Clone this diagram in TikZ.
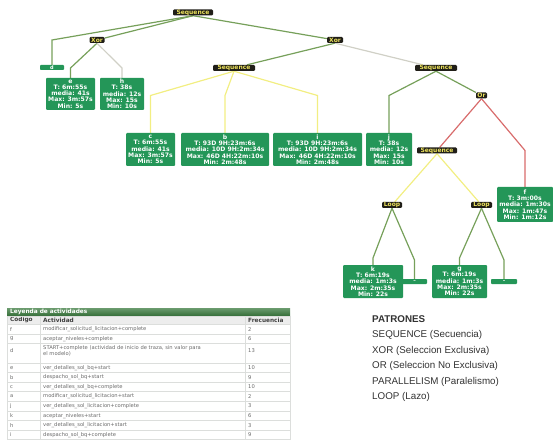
\documentclass[tikz,border=0pt]{standalone}
\usepackage{fontspec}
\setmainfont{DejaVu Sans}
\newfontfamily\patfont{Liberation Sans}
\definecolor{leaf}{RGB}{36,150,88}
\definecolor{opbg}{RGB}{32,30,24}
\definecolor{optx}{RGB}{236,226,92}
\definecolor{egreen}{RGB}{118,160,90}
\definecolor{egray}{RGB}{208,208,198}
\definecolor{eyellow}{RGB}{242,238,130}
\definecolor{ered}{RGB}{216,108,108}
\definecolor{hdrgreen}{RGB}{58,122,62}
\definecolor{rowline}{RGB}{220,222,220}
\definecolor{bodytx}{RGB}{105,105,105}
\definecolor{pattx}{RGB}{50,50,50}
\pgfdeclarelayer{bg}
\pgfsetlayers{bg,main}
\tikzset{
  leafbox/.style={fill=leaf, rounded corners=1pt, text=white, align=center,
    font=\bfseries\fontsize{6.1}{6.3}\selectfont, inner sep=0pt, minimum height=32pt},
  tinybox/.style={fill=leaf, rounded corners=0.8pt, text=white, inner sep=0pt,
    font=\bfseries\fontsize{5}{5}\selectfont, minimum height=5pt},
  opbox/.style={fill=opbg, rounded corners=1.2pt, text=optx, inner sep=0pt,
    font=\bfseries\fontsize{6}{6}\selectfont, minimum height=6pt},
  edge/.style={line width=1.2pt},
  tbltx/.style={text=bodytx, font=\fontsize{5.2}{6}\selectfont, inner sep=0pt, anchor=west},
  tblhd/.style={text=black!75, font=\bfseries\fontsize{5.8}{6}\selectfont, inner sep=0pt, anchor=west},
  pattxt/.style={text=pattx, font=\patfont\fontsize{9.8}{11}\selectfont, inner sep=0pt, anchor=base west}
}
\begin{document}
\begin{tikzpicture}[x=1pt,y=-1pt]
\useasboundingbox (0,0) rectangle (553,443);

% ---------- process tree: operators ----------
\node[opbox, minimum width=40pt] (top)  at (193,12.5) {Sequence};
\node[opbox, minimum width=15pt] (xl)   at (97,40)    {Xor};
\node[opbox, minimum width=16pt] (xr)   at (335,40)   {Xor};
\node[opbox, minimum width=42pt] (seqm) at (234,68)   {Sequence};
\node[opbox, minimum width=42pt] (seqr) at (436,68)   {Sequence};
\node[opbox, minimum width=11pt] (or)   at (481.5,95.5) {Or};
\node[opbox, minimum width=40pt] (seql) at (437,150.5) {Sequence};
\node[opbox, minimum width=20pt] (lpl)  at (392,205)  {Loop};
\node[opbox, minimum width=21pt] (lpr)  at (481.5,205) {Loop};
\coordinate (lvl) at (0,258);

% ---------- process tree: activities ----------
\node[tinybox, minimum width=24pt] (d) at (52,67.5) {d};
\node[leafbox, minimum width=49pt] (e) at (70.5,94) {e\\T: 6m:55s\\media: 41s\\Max: 3m:57s\\Min: 5s};
\node[leafbox, minimum width=44pt] (h) at (122,94) {h\\T: 38s\\media: 12s\\Max: 15s\\Min: 10s};
\node[leafbox, minimum width=49pt, minimum height=33pt] (c) at (150.5,149.5) {c\\T: 6m:55s\\media: 41s\\Max: 3m:57s\\Min: 5s};
\node[leafbox, minimum width=88pt, minimum height=33pt] (b) at (225,149.5) {b\\T: 93D 9H:23m:6s\\media: 10D 9H:2m:34s\\Max: 46D 4H:22m:10s\\Min: 2m:48s};
\node[leafbox, minimum width=89pt, minimum height=33pt] (i) at (317.5,149.5) {i\\T: 93D 9H:23m:6s\\media: 10D 9H:2m:34s\\Max: 46D 4H:22m:10s\\Min: 2m:48s};
\node[leafbox, minimum width=46pt, minimum height=33pt] (j) at (389,149.5) {j\\T: 38s\\media: 12s\\Max: 15s\\Min: 10s};
\node[leafbox, minimum width=56pt, minimum height=35pt] (f) at (525,204.5) {f\\T: 3m:00s\\media: 1m:30s\\Max: 1m:47s\\Min: 1m:12s};
\node[leafbox, minimum width=60pt, minimum height=33pt] (k) at (373,281.5) {k\\T: 6m:19s\\media: 1m:3s\\Max: 2m:35s\\Min: 22s};
\node[tinybox, minimum width=25pt] (tl) at (414.5,281.5) {--};
\node[leafbox, minimum width=55pt, minimum height=33pt] (g) at (459.5,281.5) {g\\T: 6m:19s\\media: 1m:3s\\Max: 2m:35s\\Min: 22s};
\node[tinybox, minimum width=26pt] (tr) at (504,281.5) {--};

% ---------- process tree: connectors ----------
\begin{pgfonlayer}{bg}
\draw[edge, egreen] (top.south) -- (d.north |- xl.center) -- (d.north);
\draw[edge, egreen] (top.south) -- (xl);
\draw[edge, egreen] (top.south) -- (xr);
\draw[edge, egreen] (xl.south) -- (e.north |- seqm.center) -- (e.north);
\draw[edge, egray]  (xl.south) -- (h.north |- seqm.center) -- (h.north);
\draw[edge, egreen] (xr.south) -- (seqm);
\draw[edge, egray]  (xr.south) -- (seqr);
\draw[edge, eyellow] (seqm.south) -- (c.north |- or.center) -- (c.north);
\draw[edge, eyellow] (seqm.south) -- (b.north |- or.center) -- (b.north);
\draw[edge, eyellow] (seqm.south) -- (i.north |- or.center) -- (i.north);
\draw[edge, egreen] (seqr.south) -- (j.north |- or.center) -- (j.north);
\draw[edge, egreen] (seqr.south) -- (or);
\draw[edge, ered] (or.south) -- (seql);
\draw[edge, ered] (or.south) -- (f.north |- seql.center) -- (f.north);
\draw[edge, eyellow] (seql.south) -- (lpl);
\draw[edge, eyellow] (seql.south) -- (lpr);
\draw[edge, egreen] (lpl.south) -- (k.north |- lvl) -- (k.north);
\draw[edge, egreen] (lpl.south) -- ([yshift=-2pt]tl.north |- lvl) -- (tl.north);
\draw[edge, egreen] (lpr.south) -- (g.north |- lvl) -- (g.north);
\draw[edge, egreen] (lpr.south) -- ([yshift=-2pt]tr.north |- lvl) -- (tr.north);
\end{pgfonlayer}

% ---------- activity legend table ----------
\shade[top color=hdrgreen!75!white, bottom color=hdrgreen!90!black] (7,308) rectangle (290,316);
\node[text=white, font=\bfseries\fontsize{5.8}{6}\selectfont, inner sep=0pt, anchor=west] (ley) at (10,312) {Leyenda de actividades};
\fill[black!7] (7,316) rectangle (290,324.5);
\node[tblhd] (hc) at (10,320.3) {Código};
\node[tblhd] (ha) at (43,320.3) {Actividad};
\node[tblhd] (hf) at (248,320.3) {Frecuencia};
\foreach \yy in {316,324.5,334.1,343.7,362.9,372.5,382.1,391.7,401.3,410.9,420.5,430.1,439.7}
  \draw[rowline, line width=0.5pt] (7,\yy) -- (290,\yy);
\draw[rowline, line width=0.5pt] (7,316) -- (7,439.7) (40,316) -- (40,439.7)
  (245,316) -- (245,439.7) (290,316) -- (290,439.7);
\foreach \cd/\act/\fr/\yy [count=\n] in {
  f/modificar\_solicitud\_licitacion+complete/2/329.3,
  g/aceptar\_niveles+complete/6/338.9,
  e/ver\_detalles\_sol\_bq+start/10/367.7,
  b/despacho\_sol\_bq+start/9/377.3,
  c/ver\_detalles\_sol\_bq+complete/10/386.9,
  a/modificar\_solicitud\_licitacion+start/2/396.5,
  j/ver\_detalles\_sol\_licitacion+complete/3/406.1,
  k/aceptar\_niveles+start/6/415.7,
  h/ver\_detalles\_sol\_licitacion+start/3/425.3,
  i/despacho\_sol\_bq+complete/9/434.9}{
  \node[tbltx] (rc\n) at (10,\yy) {\cd};
  \node[tbltx] (ra\n) at (43,\yy) {\act};
  \node[tbltx] (rf\n) at (248,\yy) {\fr};
}
\node[tbltx] (rcd) at (10,351) {d};
\node[tbltx, align=left] (rad) at (43,350.8) {START+complete (actividad de inicio de traza, sin valor para\\el modelo)};
\node[tbltx] (rfd) at (248,351) {13};

% ---------- pattern list ----------
\node[pattxt, font=\patfont\bfseries\fontsize{9.8}{11}\selectfont] (p0) at (372,322.5) {PATRONES};
\node[pattxt] (p1) at (372,337.8) {SEQUENCE (Secuencia)};
\node[pattxt] (p2) at (372,353.5) {XOR (Seleccion Exclusiva)};
\node[pattxt] (p3) at (372,368.5) {OR (Seleccion No Exclusiva)};
\node[pattxt] (p4) at (372,384.2) {PARALLELISM (Paralelismo)};
\node[pattxt] (p5) at (372,399.5) {LOOP (Lazo)};
\end{tikzpicture}
\end{document}
